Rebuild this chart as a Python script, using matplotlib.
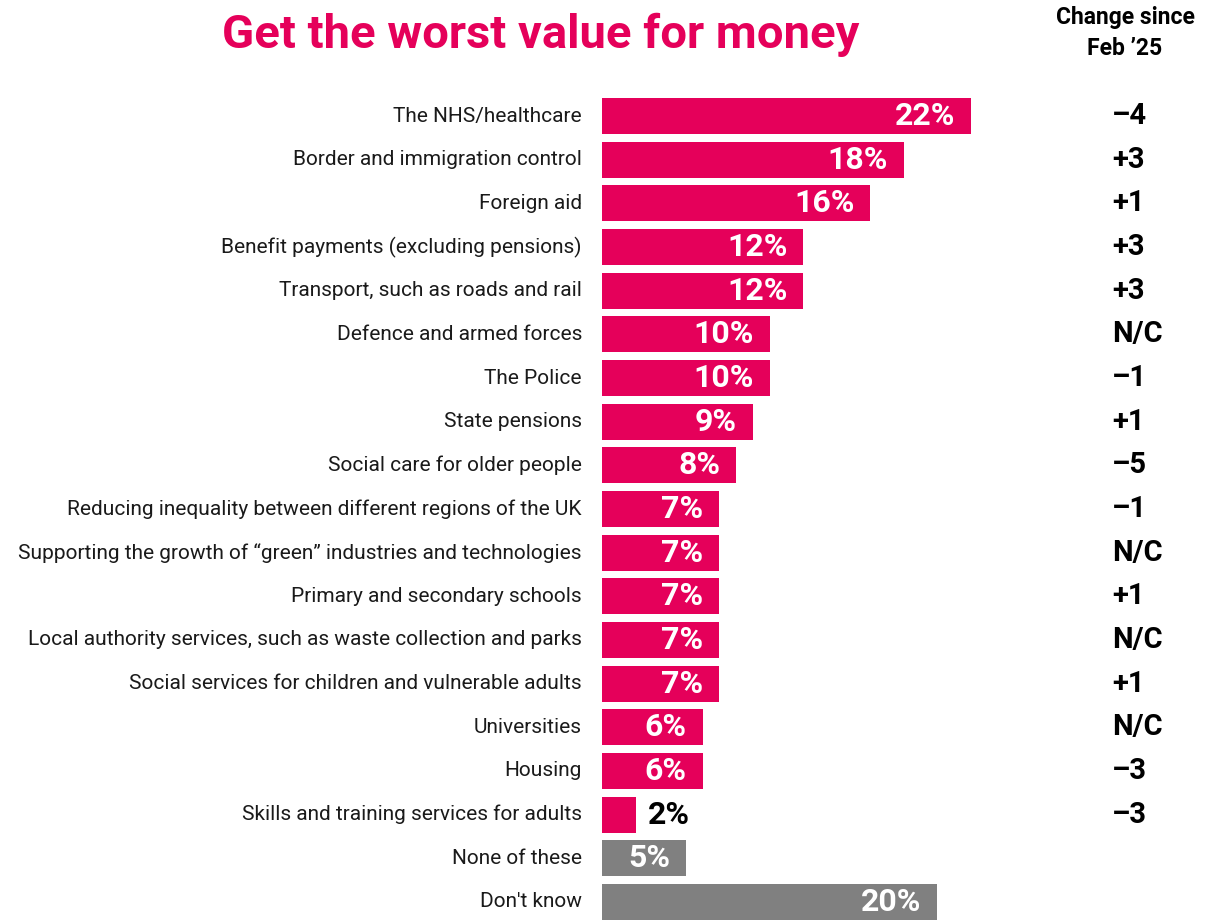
import matplotlib
matplotlib.use('Agg')
import matplotlib.pyplot as plt

plt.rcParams['font.family'] = ['Roboto', 'DejaVu Sans']

categories = ['The NHS/healthcare', 'Border and immigration control', 'Foreign aid',
              'Benefit payments (excluding pensions)', 'Transport, such as roads and rail',
              'Defence and armed forces', 'The Police', 'State pensions',
              'Social care for older people',
              'Reducing inequality between different regions of the UK',
              'Supporting the growth of \u201cgreen\u201d industries and technologies',
              'Primary and secondary schools',
              'Local authority services, such as waste collection and parks',
              'Social services for children and vulnerable adults',
              'Universities', 'Housing', 'Skills and training services for adults',
              'None of these', "Don't know"]
values = [22, 18, 16, 12, 12, 10, 10, 9, 8, 7, 7, 7, 7, 7, 6, 6, 2, 5, 20]
changes = ['\u20134', '+3', '+1', '+3', '+3', 'N/C', '\u20131', '+1', '\u20135', '\u20131',
           'N/C', '+1', 'N/C', '+1', 'N/C', '\u20133', '\u20133', '', '']

PINK = '#E5005A'
GREY = '#808080'
colors = [PINK] * 17 + [GREY] * 2

W, H = 1213, 922
fig = plt.figure(figsize=(W / 100, H / 100), dpi=100)
# axes placed in pixel terms: bars start at x=602, ~16.77 px per %
left = 602 / W
xmax = 30
width = xmax * 16.77 / W
top = 94.2
bottom = 923.8
ax = fig.add_axes([left, 1 - bottom / H, width, (bottom - top) / H])

ypos = list(range(len(categories)))
ax.barh(ypos, values, height=0.83, color=colors)
ax.set_xlim(0, xmax)
ax.set_ylim(len(categories) - 0.5, -0.5)
ax.axis('off')

for i, (cat, v, ch) in enumerate(zip(categories, values, changes)):
    ax.text(-1.2, i, cat, ha='right', va='center', fontsize=15, color='#1a1a1a')
    if v >= 4:
        ax.text(v - 0.95, i, f'{v}%', ha='right', va='center', fontsize=23,
                fontweight='bold', color='white')
    else:
        ax.text(v + 0.75, i, f'{v}%', ha='left', va='center', fontsize=23,
                fontweight='bold', color='black')
    if ch:
        ax.text(30.4, i, ch, ha='left', va='center', fontsize=21,
                fontweight='bold', color='black', clip_on=False)

fig.text(541 / W, 1 - 35 / H, 'Get the worst value for money', ha='center', va='center',
         fontsize=34, fontweight='bold', color=PINK)
fig.text(1125 / W, 1 - 33 / H, 'Change since\nFeb \u201925', ha='center', va='center',
         fontsize=16.5, fontweight='bold', color='black', linespacing=1.4)

fig.savefig('out.png', dpi=100)
